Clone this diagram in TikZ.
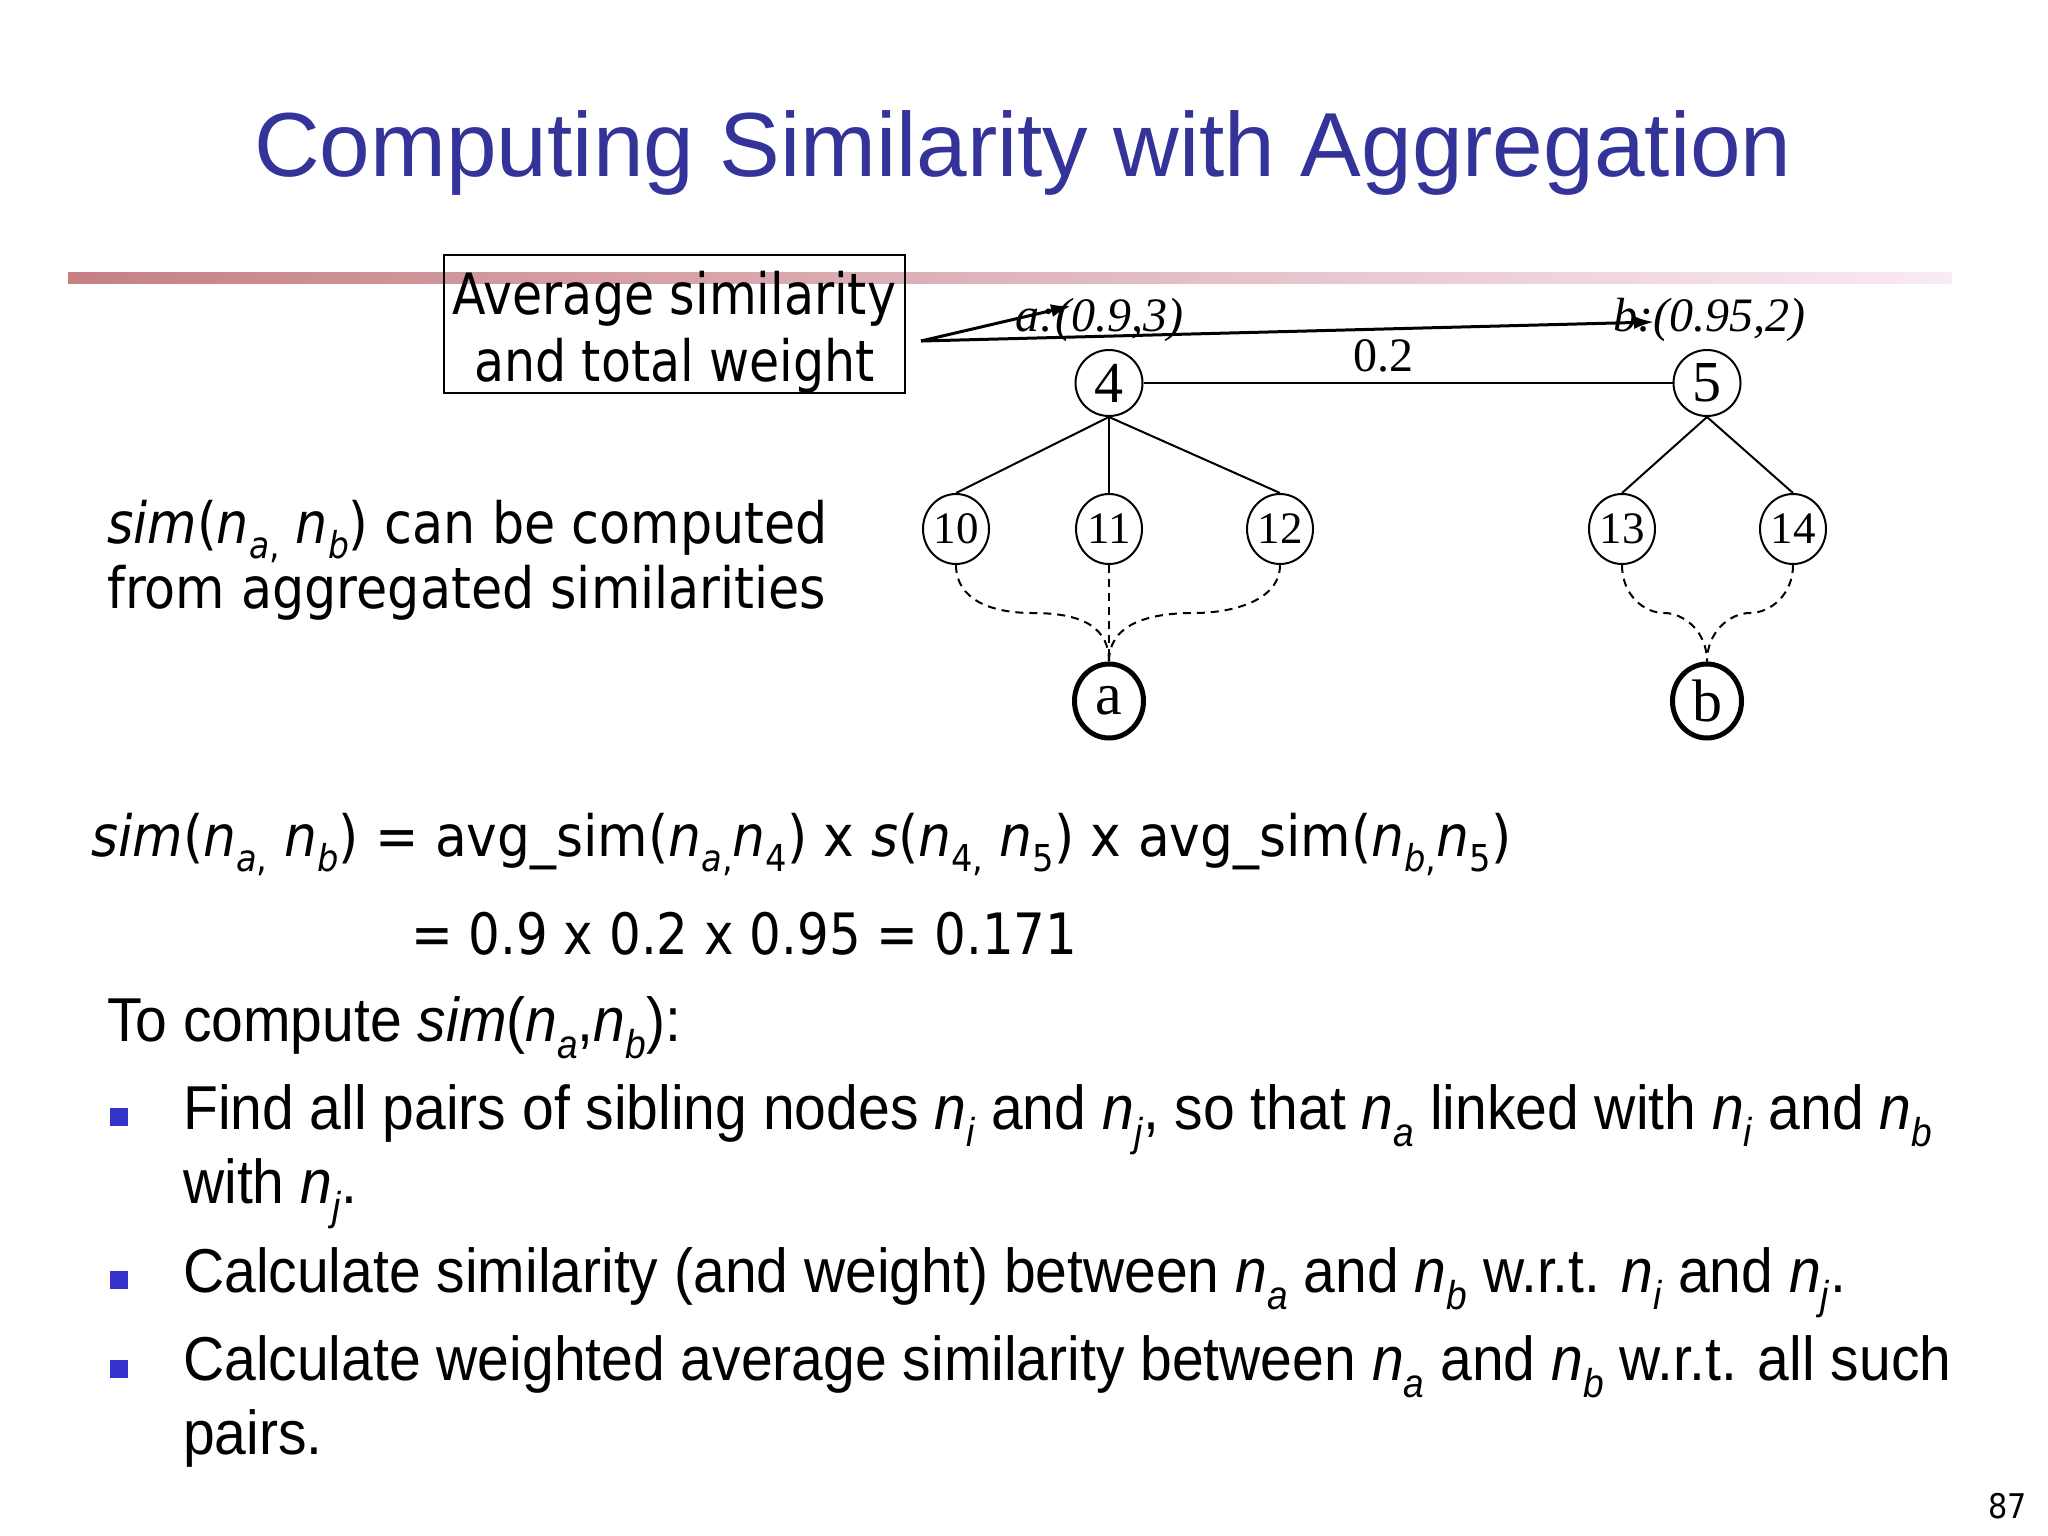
\documentclass[tikz,border=0pt]{standalone}
\usepackage{graphicx}
\usepackage{fontspec}
\setmainfont{Liberation Sans}
\newfontfamily\tah{DejaVu Sans}[FakeStretch=0.89]
\newfontfamily\tahf{DejaVu Sans}[FakeStretch=0.91]
\newfontfamily\tahm{DejaVu Sans}[FakeStretch=0.875]
\newfontfamily\tahn{DejaVu Sans}[FakeStretch=0.86]
\newfontfamily\arn{Liberation Sans}[FakeStretch=0.92]
\newfontfamily\ari{Liberation Sans}
\newfontfamily\tms{Liberation Serif}
\usetikzlibrary{arrows.meta,shapes.geometric}
\definecolor{titleblue}{RGB}{51,51,153}
\definecolor{bulletblue}{RGB}{51,51,204}
\definecolor{barleft}{RGB}{198,128,132}
\definecolor{barmid}{RGB}{220,165,172}
\definecolor{barright}{RGB}{249,234,245}
\newcommand\sub[1]{\raisebox{-0.28em}{\scalebox{0.65}{#1}}}
\newcommand\nn[1]{\textit{n}\sub{#1}}
\begin{document}
\begin{tikzpicture}[x=1pt,y=-1pt,
  titletext/.style={font=\ari\fontsize{91}{100}\selectfont, text=titleblue, anchor=base, inner sep=0},
  tahtext/.style={font=\tah\fontsize{57}{67}\selectfont, anchor=base west, inner sep=0},
  bodytext/.style={font=\arn\fontsize{62}{74}\selectfont, anchor=base west, inner sep=0},
  bsq/.style={rectangle, fill=bulletblue, minimum size=18, inner sep=0},
  tnode/.style={ellipse, draw, line width=2, inner sep=0, minimum width=66, minimum height=70, font=\tms\fontsize{45}{45}\selectfont},
  topnode/.style={ellipse, draw, line width=2, inner sep=0, minimum width=67, minimum height=66, font=\tms\fontsize{58}{58}\selectfont},
  leafnode/.style={ellipse, draw, line width=5, inner sep=0, minimum width=69, minimum height=74, font=\tms\fontsize{60}{60}\selectfont},
  treeedge/.style={line width=2},
  dashedc/.style={line width=2, dash pattern=on 8pt off 6pt},
  arr/.style={line width=3, -{Latex[length=20,width=13]}},
  tlabel/.style={font=\tms\fontsize{48}{48}\selectfont, anchor=base, inner sep=0}
]
\useasboundingbox (0,0) rectangle (2048,1536);
\fill[white] (0,0) rectangle (2048,1536);

% title and bar
\node[titletext] (title) at (1023,176) {Computing Similarity with Aggregation};
\shade[left color=barleft, middle color=barmid, right color=barright] (68,272) rectangle (1952,283);

% box
\node[draw, line width=2.5, minimum width=461, minimum height=138, inner sep=0] (box) at (674.5,324) {};
\node[font=\tahn\fontsize{57}{67}\selectfont, align=center, inner sep=0] (boxtxt) at (674.5,332.5) {Average similarity\\and total weight};

% tree
\node[topnode] (n4) at (1109,383) {4};
\node[topnode] (n5) at (1707,383) {5};
\node[tnode] (n10) at (956,529) {10};
\node[tnode] (n11) at (1109,529) {11};
\node[tnode] (n12) at (1280,529) {12};
\node[tnode] (n13) at (1622,529) {13};
\node[tnode] (n14) at (1793,529) {14};
\node[leafnode] (na) at (1109,701) {a};
\node[leafnode] (nb) at (1707,701) {b};

\draw[treeedge] (n4) -- (n5);
\draw[treeedge] (n4.south) -- (n10.north);
\draw[treeedge] (n4.south) -- (n11.north);
\draw[treeedge] (n4.south) -- (n12.north);
\draw[treeedge] (n5.south) -- (n13.north);
\draw[treeedge] (n5.south) -- (n14.north);

\node[tlabel] (w45) at (1383,371) {0.2};
\node[tlabel] (alab) at (1099,331) {\itshape a:(0.9,3)};
\node[tlabel] (blab) at (1709,331) {\itshape b:(0.95,2)};

\coordinate (m10) at (1032,613);
\coordinate (m12) at (1194,613);
\coordinate (m13) at (1664,613);
\coordinate (m14) at (1750,613);
\draw[dashedc] (n10.south) .. controls +(0,35) and +(-40,0) .. (m10) .. controls +(40,0) and +(0,-40) .. (na.north);
\draw[dashedc] (n11.south) -- (na.north);
\draw[dashedc] (n12.south) .. controls +(0,35) and +(40,0) .. (m12) .. controls +(-40,0) and +(0,-40) .. (na.north);
\draw[dashedc] (n13.south) .. controls +(0,30) and +(-20,0) .. (m13) .. controls +(20,0) and +(0,-30) .. (nb.north);
\draw[dashedc] (n14.south) .. controls +(0,30) and +(20,0) .. (m14) .. controls +(-20,0) and +(0,-30) .. (nb.north);

% arrows from the box
\coordinate (arrs) at (921,341);
\coordinate (atip) at (1071,306);
\coordinate (btip) at (1654,322);
\draw[arr] (arrs) -- (atip);
\draw[arr] (arrs) -- (btip);

% left text
\node[tahtext] (left1) at (107,543) {\textit{sim}(\nn{\textit{a},} \nn{\textit{b}}) can be computed};
\node[tahtext] (left2) at (107,608) {from aggregated similarities};

% formula
\node[tahtext, font=\tahf\fontsize{57}{67}\selectfont] (f1) at (91,856) {\textit{sim}(\nn{\textit{a},} \nn{\textit{b}}) = avg\_sim(\nn{\textit{a},}\nn{4}) x \textit{s}(\nn{4,} \nn{5}) x avg\_sim(\nn{\textit{b},}\nn{5})};
\node[tahtext, font=\tahm\fontsize{57}{67}\selectfont] (f2) at (411,954) {= 0.9 x 0.2 x 0.95 = 0.171};

% body
\node[bodytext] (t0) at (107,1041) {To compute \textit{sim}(\nn{\textit{a}},\nn{\textit{b}}):};
\node[bsq] (b1) at (119,1117) {};
\node[bodytext] (l1a) at (183,1129) {Find all pairs of sibling nodes \nn{\textit{i}} and \nn{\textit{j}}, so that \nn{\textit{a}} linked with \nn{\textit{i}} and \nn{\textit{b}}};
\node[bodytext] (l1b) at (183,1203) {with \nn{\textit{j}}.};
\node[bsq] (b2) at (119,1280) {};
\node[bodytext] (l2) at (183,1292) {Calculate similarity (and weight) between \nn{\textit{a}} and \nn{\textit{b}} w.r.t. \nn{\textit{i}} and \nn{\textit{j}}.};
\node[bsq] (b3) at (119,1369) {};
\node[bodytext] (l3a) at (183,1380) {Calculate weighted average similarity between \nn{\textit{a}} and \nn{\textit{b}} w.r.t. all such};
\node[bodytext] (l3b) at (183,1454) {pairs.};

% page number
\node[font=\tah\fontsize{34}{34}\selectfont, anchor=base east, inner sep=0] (pg) at (2027,1518) {87};
\end{tikzpicture}
\end{document}
